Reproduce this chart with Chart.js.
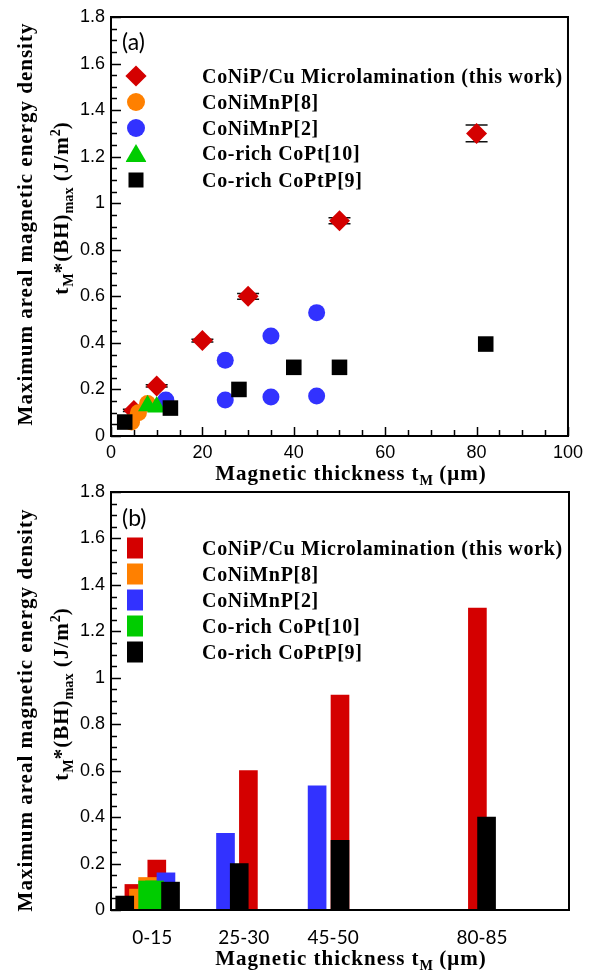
<!DOCTYPE html>
<html>
<head>
<meta charset="utf-8">
<script src="https://cdn.jsdelivr.net/npm/chart.js@4.4.1/dist/chart.umd.min.js"></script>
<style>
  html, body { margin: 0; padding: 0; background: #fff; }
  #page { position: relative; width: 589px; height: 975px; overflow: hidden; }
  .wrap { position: absolute; left: 0; width: 589px; }
  .ttl { position: absolute; font: bold 21px "Liberation Serif", "Times New Roman", serif; letter-spacing: 1px; white-space: nowrap; color: #000; transform: translate(-50%, -50%); }
  .ttl.rot { transform: translate(-50%, -50%) rotate(-90deg); }
  .ttl sub { font-size: 0.68em; vertical-align: -0.3em; letter-spacing: 0; }
  .ttl sup { font-size: 0.68em; vertical-align: 0.55em; letter-spacing: 0; }
  .tag { position: absolute; font: 23px Lato, "Open Sans", sans-serif; color: #000; transform: translateY(-50%); }
  .leg { position: absolute; left: 0; width: 589px; height: 0; }
  .leg .mk { position: absolute; transform: translate(-50%, -50%); }
  .leg .tx { position: absolute; left: 202px; transform: translateY(-50%); font: bold 20px "Liberation Serif", "Times New Roman", serif; letter-spacing: 0.7px; white-space: nowrap; color: #000; }
</style>
</head>
<body>
<div id="page">
  <div class="wrap" style="top:0;height:475px"><canvas id="chart-a"></canvas></div>
  <div class="wrap" style="top:475px;height:500px"><canvas id="chart-b"></canvas></div>

  <div class="ttl rot" style="left:25px;top:224px">Maximum areal magnetic energy density</div>
  <div class="ttl rot" style="left:62px;top:208px">t<sub>M</sub>*(BH)<sub>max</sub> (J/m<sup>2</sup>)</div>
  <div class="ttl" style="left:351px;top:475px">Magnetic thickness t<sub>M</sub> (μm)</div>
  <div class="tag" style="left:122px;top:41px">(a)</div>
  <div id="leg-a"></div>

  <div class="ttl rot" style="left:25px;top:710px">Maximum areal magnetic energy density</div>
  <div class="ttl rot" style="left:62px;top:694px">t<sub>M</sub>*(BH)<sub>max</sub> (J/m<sup>2</sup>)</div>
  <div class="ttl" style="left:351px;top:960px">Magnetic thickness t<sub>M</sub> (μm)</div>
  <div class="tag" style="left:122px;top:517px">(b)</div>
  <div id="leg-b"></div>
</div>

<script>
// Series y colores
const series  = ['CoNiP/Cu Microlamination (this work)', 'CoNiMnP[8]', 'CoNiMnP[2]', 'Co-rich CoPt[10]', 'Co-rich CoPtP[9]'];
const colores = ['#d40000', '#ff8000', '#3232ff', '#00cc00', '#000000'];

// (a) dispersión
const redX    = [5, 10, 20, 30, 50, 80];
const redY    = [0.11, 0.215, 0.41, 0.6, 0.925, 1.3];
const redErr  = [0.005, 0.005, 0.006, 0.012, 0.013, 0.036];
const orangeX = [4.5, 6, 8];
const orangeY = [0.06, 0.1, 0.14];
const blueX   = [12, 25, 25, 35, 35, 45, 45];
const blueY   = [0.155, 0.325, 0.155, 0.43, 0.168, 0.53, 0.172];
const greenX  = [8, 10];
const greenY  = [0.13, 0.125];
const blackX  = [3, 13, 28, 40, 50, 82];
const blackY  = [0.06, 0.12, 0.2, 0.295, 0.295, 0.395];

// (b) barras
const barRedX    = [5, 10, 30, 50, 80];
const barRedY    = [0.11, 0.215, 0.6, 0.925, 1.3];
const barOrangeX = [6, 8];
const barOrangeY = [0.09, 0.14];
const barBlueX   = [12, 25, 45];
const barBlueY   = [0.16, 0.33, 0.535];
const barGreenX  = [8, 9.5];
const barGreenY  = [0.125, 0.125];
const barBlackX  = [3, 13, 28, 50, 82];
const barBlackY  = [0.06, 0.12, 0.2, 0.3, 0.4];
const grupos     = ['0-15', '25-30', '45-50', '80-85'];
const grupoPos   = [9, 29, 48.5, 81];

const yTicks = [0, 0.2, 0.4, 0.6, 0.8, 1, 1.2, 1.4, 1.6, 1.8];
const xTicks = [0, 20, 40, 60, 80, 100];

const pts = (xs, ys) => xs.map((x, i) => ({ x, y: ys[i] }));

// marco + ticks hacia adentro
const marco = {
  id: 'marco',
  afterDraw(chart, args, opts) {
    const { ctx, chartArea: a, scales } = chart;
    ctx.save();
    ctx.strokeStyle = '#000';
    ctx.lineWidth = 1.5;
    ctx.beginPath();
    for (let i = 0; i <= 36; i++) {
      const y = Math.round(scales.y.getPixelForValue(i * 0.05)) + 0.5;
      const len = i % 4 === 0 ? 10 : 6;
      ctx.moveTo(a.left, y); ctx.lineTo(a.left + len, y);
    }
    if (opts.xTicks) {
      for (let i = 0; i <= 20; i++) {
        const x = Math.round(scales.x.getPixelForValue(i * 5)) + 0.5;
        const len = i % 4 === 0 ? 9 : 6;
        ctx.moveTo(x, a.bottom); ctx.lineTo(x, a.bottom - len);
      }
    }
    ctx.stroke();
    ctx.lineWidth = 2;
    ctx.strokeRect(a.left, a.top, a.right - a.left, a.bottom - a.top);
    ctx.restore();
  }
};

// barras de error (a)
const errores = {
  id: 'errores',
  beforeDatasetsDraw(chart) {
    const { ctx, scales } = chart;
    ctx.save();
    ctx.strokeStyle = '#111';
    ctx.lineWidth = 1.5;
    ctx.beginPath();
    redX.forEach((xv, i) => {
      const x = scales.x.getPixelForValue(xv);
      const y1 = scales.y.getPixelForValue(redY[i] + redErr[i]);
      const y2 = scales.y.getPixelForValue(redY[i] - redErr[i]);
      ctx.moveTo(x, y1); ctx.lineTo(x, y2);
      ctx.moveTo(x - 11, y1); ctx.lineTo(x + 11, y1);
      ctx.moveTo(x - 11, y2); ctx.lineTo(x + 11, y2);
    });
    ctx.stroke();
    ctx.restore();
  }
};

const tickFont = { family: '"Liberation Sans", Arial, sans-serif', size: 18 };

function yScale() {
  return {
    type: 'linear', min: 0, max: 1.8,
    afterBuildTicks: s => { s.ticks = yTicks.map(v => ({ value: v })); },
    ticks: { color: '#000', font: tickFont, padding: 6, callback: v => String(+(+v).toFixed(1)) },
    grid: { display: false, drawTicks: false },
    border: { display: false },
    afterFit: s => { s.width = 111; },
  };
}

const comunes = {
  responsive: true,
  maintainAspectRatio: false,
  animation: false,
  events: [],
  layout: { padding: { left: 0, right: 20, top: 17, bottom: 0 } },
};

new Chart(document.getElementById('chart-a'), {
  type: 'scatter',
  data: {
    datasets: [
      { label: series[0], data: pts(redX, redY),       pointStyle: 'rectRot',  radius: 10.5, order: 5 },
      { label: series[1], data: pts(orangeX, orangeY), pointStyle: 'circle',   radius: 8.5,  order: 4 },
      { label: series[2], data: pts(blueX, blueY),     pointStyle: 'circle',   radius: 8.5,  order: 3 },
      { label: series[3], data: pts(greenX, greenY),   pointStyle: 'triangle', radius: 11,   order: 2 },
      { label: series[4], data: pts(blackX, blackY),   pointStyle: 'rect',     radius: 11,   order: 1 },
    ].map((d, i) => Object.assign(d, {
      backgroundColor: colores[i], borderColor: colores[i], borderWidth: 0, hoverRadius: d.radius,
    })),
  },
  options: Object.assign({}, comunes, {
    plugins: { legend: { display: false }, tooltip: { enabled: false }, marco: { xTicks: true } },
    scales: {
      x: {
        type: 'linear', min: 0, max: 100,
        afterBuildTicks: s => { s.ticks = xTicks.map(v => ({ value: v })); },
        ticks: { color: '#000', font: tickFont, padding: 6 },
        grid: { display: false, drawTicks: false },
        border: { display: false },
        afterFit: s => { s.height = 39; },
      },
      y: yScale(),
    },
  }),
  plugins: [errores, marco],
});

new Chart(document.getElementById('chart-b'), {
  type: 'bar',
  data: {
    datasets: [
      { label: series[0], data: pts(barRedX, barRedY),       order: 5 },
      { label: series[1], data: pts(barOrangeX, barOrangeY), order: 4 },
      { label: series[2], data: pts(barBlueX, barBlueY),     order: 3 },
      { label: series[3], data: pts(barGreenX, barGreenY),   order: 2 },
      { label: series[4], data: pts(barBlackX, barBlackY),   order: 1 },
    ].map((d, i) => Object.assign(d, {
      backgroundColor: colores[i], borderWidth: 0, barThickness: 18, grouped: false,
    })),
  },
  options: Object.assign({}, comunes, {
    plugins: { legend: { display: false }, tooltip: { enabled: false }, marco: { xTicks: false } },
    scales: {
      x: {
        type: 'linear', min: 0, max: 100, offset: false,
        afterBuildTicks: s => { s.ticks = grupoPos.map(v => ({ value: v })); },
        ticks: {
          color: '#000', font: { family: 'Lato, "Open Sans", sans-serif', size: 19 }, padding: 16,
          autoSkip: false, maxRotation: 0, callback: (v, i) => grupos[i],
        },
        grid: { display: false, drawTicks: false, offset: false },
        border: { display: false },
        afterFit: s => { s.height = 65; },
      },
      y: yScale(),
    },
  }),
  plugins: [marco],
});

// Leyendas (dentro del área del gráfico)
function leyenda(id, filas, marcadores) {
  const cont = document.getElementById(id);
  cont.innerHTML = series.map((s, i) => `
    <div class="leg" style="top:${filas[i]}px">
      <span class="mk" style="left:${marcadores[i].x}px;${marcadores[i].css}"></span>
      <span class="tx">${s}</span>
    </div>`).join('');
}

leyenda('leg-a', [76, 102, 128, 153, 180], [
  { x: 136, css: `width:15px;height:15px;background:${colores[0]};transform:translate(-50%,-50%) rotate(45deg)` },
  { x: 136, css: `width:18px;height:18px;border-radius:50%;background:${colores[1]}` },
  { x: 136, css: `width:18px;height:18px;border-radius:50%;background:${colores[2]}` },
  { x: 136, css: `width:21px;height:18px;background:${colores[3]};clip-path:polygon(50% 0,100% 100%,0 100%)` },
  { x: 136, css: `width:15px;height:15px;background:${colores[4]}` },
]);

leyenda('leg-b', [548, 574, 600, 626, 652], colores.map(c => (
  { x: 135, css: `width:16px;height:21px;background:${c}` }
)));
</script>
</body>
</html>
